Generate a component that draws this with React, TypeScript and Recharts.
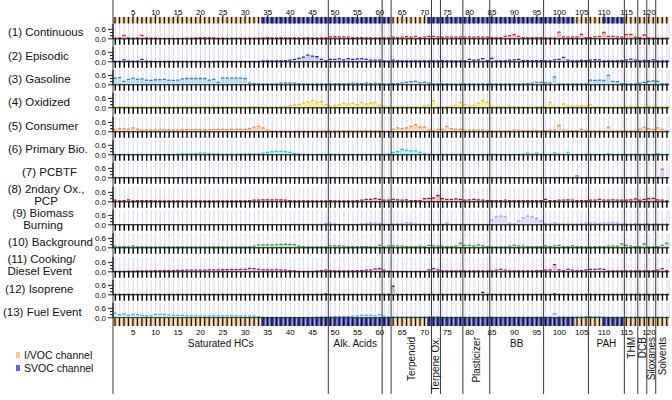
import React from 'react';
import {
  ComposedChart,
  Bar,
  Line,
  XAxis,
  YAxis,
  CartesianGrid,
  ReferenceLine,
  ReferenceArea
} from 'recharts';

// compound index 1..124 (x categories)
const compounds = Array.from({ length: 124 }, (_, k) => k + 1);
const axisTicks = [5, 10, 15, 20, 25, 30, 35, 40, 45, 50, 55, 60, 65, 70, 75, 80, 85, 90, 95, 100, 105, 110, 115, 120];

// SVOC channel compound ranges (rest is I/VOC)
const svocRanges = [[34, 62], [71, 103], [110, 114]];

// compound class boundaries and labels
const groupEdges = [0.5, 48.5, 60.5, 62.5, 71.5, 73.5, 78.5, 84.5, 96.5, 106.5, 114.5, 117.5, 119.5, 121.5];
const groups = [
  { name: 'Saturated HCs', from: 0.5, to: 48.5, vertical: false },
  { name: 'Alk. Acids', from: 48.5, to: 60.5, vertical: false },
  { name: 'Terpenoid', from: 62.5, to: 71.5, vertical: true },
  { name: 'Terpene Ox.', from: 71.5, to: 73.5, vertical: true },
  { name: 'Plasticizer', from: 78.5, to: 84.5, vertical: true },
  { name: 'BB', from: 84.5, to: 96.5, vertical: false },
  { name: 'PAH', from: 106.5, to: 114.5, vertical: false },
  { name: 'THM', from: 114.5, to: 117.5, vertical: true },
  { name: 'DCB', from: 117.5, to: 119.5, vertical: true },
  { name: 'Siloxanes', from: 119.5, to: 121.5, vertical: true },
  { name: 'Solvents', from: 121.5, to: 124.5, vertical: true }
];

const factorNames = [
  '(1) Continuous', '(2) Episodic', '(3) Gasoline', '(4) Oxidized', '(5) Consumer',
  '(6) Primary Bio.', '(7) PCBTF', '(8) 2ndary Ox.,\nPCP', '(9) Biomass\nBurning',
  '(10) Background', '(11) Cooking/\nDiesel Event', '(12) Isoprene', '(13) Fuel Event'
];
const darkColors = ['#d42a2a', '#2424c8', '#2f7fb5', '#e0c81c', '#f08c3c', '#1ec8d2', '#b04cb4', '#a3182c', '#9a9af0', '#2e9e3a', '#8c1e6e', '#222222', '#3fb3c9'];
const lightColors = ['#f4b8bc', '#c8c8f4', '#b8dcf0', '#f6eaa0', '#f9d2b4', '#aeeef2', '#e6c8ec', '#ecb4bc', '#dcdcfa', '#b8e4b8', '#e6b8dc', '#c4c4c4', '#c4ecf4'];

const continuous = [
  .04, .05, .22, .05, .04, .05, .22, .05, .04, .04,
  .03, .03, .03, .03, .03, .03, .04, .04, .05, .08,
  .08, .08, .05, .04, .04, .04, .04, .04, .04, .04,
  .04, .04, .04, .05, .08, .05, .05, .08, .05, .05,
  .05, .06, .06, .07, .06, .06, .05, .05, .12, .13,
  .12, .12, .1, .08, .08, .07, .06, .06, .05, .05,
  .05, .05, .1, .08, .1, .14, .1, .15, .08, .1,
  .15, .15, .12, .1, .12, .1, .1, .12, .1, .12,
  .1, .12, .1, .1, .08, .08, .08, .15, .2, .26,
  .15, .08, .08, .08, .08, .08, .06, .06, .06, .42,
  .12, .1, .1, .12, .28, .08, .08, .12, .15, .4,
  .15, .15, .12, .1, .28, .28, .1, .08, .25, .05,
  .04, .04, .04, .04
];
const episodic = [
  .03, .03, .12, .04, .04, .04, .15, .04, .03, .03,
  .03, .03, .03, .03, .03, .03, .03, .03, .03, .03,
  .03, .03, .03, .03, .03, .03, .03, .03, .03, .03,
  .03, .03, .03, .05, .05, .05, .06, .06, .08, .1,
  .15, .22, .3, .42, .36, .32, .15, .05, .15, .15,
  .18, .12, .2, .15, .18, .2, .15, .1, .1, .1,
  .05, .04, .1, .05, .05, .05, .05, .05, .05, .05,
  .05, .05, .05, .08, .05, .05, .05, .05, .05, .15,
  .1, .12, .2, .08, .22, .05, .05, .05, .1, .12,
  .15, .08, .08, .08, .08, .08, .06, .05, .12, .15,
  .28, .1, .06, .06, .09, .08, .1, .13, .12, .05,
  .05, .05, .05, .08, .12, .17, .1, .06, .09, .08,
  .12, .05, .05, .05
];
const gasoline = [
  .42, .45, .22, .35, .42, .35, .38, .3, .28, .32,
  .33, .35, .3, .28, .3, .38, .4, .4, .4, .4,
  .4, .3, .35, .15, .42, .42, .42, .42, .42, .4,
  .1, .08, .06, .05, .05, .05, .06, .1, .12, .12,
  .1, .08, .05, .05, .05, .05, .05, .05, .06, .08,
  .08, .06, .08, .1, .08, .08, .1, .08, .1, .08,
  .05, .06, .08, .08, .1, .15, .2, .22, .12, .15,
  .1, .06, .05, .05, .05, .05, .05, .05, .05, .05,
  .05, .05, .05, .05, .05, .05, .05, .05, .05, .06,
  .06, .06, .08, .1, .15, .15, .12, .1, .5, .06,
  .06, .06, .06, .06, .06, .06, .3, .28, .3, .28,
  .6, .22, .2, .08, .06, .05, .05, .1, .15, .22,
  .25, .22, .08, .05
];
const oxidized = [
  .05, .05, .05, .05, .05, .05, .05, .05, .05, .05,
  .05, .05, .06, .06, .05, .05, .05, .06, .06, .06,
  .06, .06, .05, .05, .05, .05, .05, .05, .05, .06,
  .06, .08, .08, .05, .05, .05, .05, .06, .08, .12,
  .18, .22, .3, .38, .46, .35, .4, .2, .1, .15,
  .2, .3, .25, .3, .2, .35, .25, .3, .35, .15,
  .1, .06, .05, .05, .05, .05, .05, .05, .06, .1,
  .15, .45, .06, .05, .05, .1, .15, .35, .2, .1,
  .15, .3, .45, .35, .1, .06, .05, .06, .1, .08,
  .06, .06, .06, .06, .06, .08, .06, .35, .05, .05,
  .25, .1, .1, .12, .12, .12, .2, .06, .06, .06,
  .06, .06, .06, .06, .08, .1, .08, .06, .06, .1,
  .08, .06, .06, .06
];
const consumer = [
  .15, .2, .18, .15, .25, .15, .1, .12, .12, .12,
  .12, .13, .13, .12, .12, .13, .13, .14, .14, .13,
  .13, .14, .14, .15, .15, .14, .15, .15, .16, .16,
  .2, .3, .35, .25, .1, .05, .04, .04, .04, .04,
  .04, .04, .04, .04, .04, .04, .04, .05, .05, .05,
  .05, .05, .05, .05, .06, .06, .05, .05, .05, .05,
  .04, .04, .15, .25, .2, .25, .35, .45, .3, .3,
  .1, .08, .15, .15, .35, .2, .15, .15, .1, .1,
  .1, .12, .12, .06, .06, .06, .06, .06, .06, .1,
  .1, .08, .08, .08, .08, .08, .08, .1, .1, .4,
  .1, .08, .08, .08, .15, .06, .06, .06, .06, .06,
  .3, .06, .06, .06, .06, .06, .06, .15, .3, .2,
  .15, .25, .15, .05
];
const primaryBio = [
  .02, .02, .02, .02, .02, .02, .02, .02, .02, .02,
  .02, .03, .03, .03, .04, .05, .05, .06, .08, .1,
  .1, .08, .05, .05, .04, .04, .04, .04, .05, .05,
  .05, .05, .06, .1, .15, .2, .22, .22, .2, .15,
  .08, .05, .03, .03, .03, .03, .03, .03, .04, .03,
  .03, .03, .03, .03, .03, .03, .03, .03, .03, .03,
  .03, .04, .15, .2, .35, .3, .25, .25, .15, .08,
  .03, .03, .03, .03, .03, .03, .03, .03, .03, .03,
  .03, .03, .03, .03, .03, .03, .03, .03, .03, .03,
  .03, .03, .1, .03, .1, .03, .03, .03, .12, .05,
  .03, .15, .03, .03, .03, .03, .03, .03, .03, .03,
  .08, .03, .03, .03, .03, .03, .03, .03, .03, .03,
  .03, .08, .03, .03
];
const pcbtf = [
  .01, .01, .01, .01, .01, .01, .01, .01, .01, .01,
  .01, .01, .01, .01, .01, .01, .01, .01, .01, .01,
  .01, .01, .01, .01, .01, .01, .01, .01, .01, .01,
  .01, .01, .01, .01, .01, .01, .01, .01, .01, .01,
  .01, .01, .01, .01, .01, .01, .01, .01, .01, .01,
  .01, .01, .01, .01, .01, .01, .01, .01, .01, .01,
  .01, .01, .01, .01, .01, .01, .01, .01, .01, .01,
  .01, .01, .01, .01, .01, .01, .01, .01, .01, .01,
  .01, .01, .01, .01, .01, .01, .01, .01, .01, .01,
  .01, .01, .01, .01, .01, .01, .01, .01, .01, .01,
  .01, .01, .01, .12, .01, .01, .01, .01, .01, .01,
  .01, .01, .01, .01, .01, .01, .01, .01, .01, .01,
  .01, .01, .55, .01
];
const secondaryOx = [
  .1, .05, .08, .12, .05, .08, .08, .08, .08, .06,
  .06, .06, .06, .06, .06, .06, .06, .06, .06, .06,
  .05, .05, .05, .05, .05, .05, .05, .05, .05, .05,
  .08, .1, .1, .12, .12, .12, .12, .12, .1, .08,
  .06, .06, .06, .05, .05, .05, .05, .05, .08, .06,
  .06, .06, .06, .06, .08, .1, .15, .15, .2, .15,
  .1, .1, .15, .12, .1, .12, .08, .08, .08, .2,
  .22, .25, .4, .2, .15, .15, .18, .15, .1, .12,
  .15, .12, .1, .08, .08, .08, .08, .1, .08, .08,
  .08, .08, .08, .08, .08, .08, .15, .08, .08, .1,
  .1, .12, .1, .08, .08, .08, .1, .1, .15, .1,
  .1, .12, .1, .1, .1, .12, .18, .1, .15, .2,
  .22, .12, .1, .05
];
const biomass = [
  .01, .01, .01, .01, .01, .01, .01, .01, .01, .01,
  .01, .01, .01, .01, .01, .01, .01, .01, .01, .01,
  .01, .01, .01, .01, .01, .01, .01, .01, .01, .01,
  .01, .01, .01, .01, .01, .01, .01, .01, .01, .01,
  .02, .02, .03, .03, .03, .02, .02, .08, .1, .06,
  .03, .03, .03, .03, .03, .05, .08, .1, .1, .08,
  .04, .03, .05, .05, .06, .12, .1, .05, .04, .04,
  .03, .03, .03, .03, .1, .03, .03, .03, .03, .03,
  .03, .03, .03, .03, .3, .5, .55, .5, .1, .05,
  .25, .45, .55, .5, .4, .25, .08, .05, .1, .05,
  .05, .06, .05, .05, .05, .1, .1, .1, .08, .12,
  .1, .12, .1, .06, .05, .05, .08, .05, .05, .05,
  .05, .05, .05, .05
];
const background = [
  .1, .05, .08, .05, .12, .05, .05, .05, .05, .05,
  .05, .05, .05, .05, .05, .05, .05, .05, .05, .05,
  .06, .06, .06, .06, .06, .06, .06, .06, .06, .06,
  .05, .1, .18, .18, .18, .18, .2, .22, .22, .22,
  .2, .1, .08, .06, .05, .05, .05, .05, .12, .12,
  .12, .1, .08, .08, .08, .08, .08, .05, .06, .15,
  .05, .12, .12, .1, .1, .08, .08, .08, .1, .08,
  .15, .12, .1, .1, .08, .08, .1, .3, .15, .15,
  .12, .18, .12, .08, .05, .05, .05, .06, .1, .15,
  .12, .1, .08, .08, .08, .08, .12, .08, .1, .15,
  .08, .08, .12, .08, .08, .06, .06, .08, .08, .08,
  .1, .1, .1, .25, .15, .1, .08, .08, .25, .05,
  .05, .08, .15, .3
];
const cooking = [
  .03, .03, .03, .04, .04, .05, .05, .06, .06, .07,
  .07, .08, .08, .08, .09, .09, .1, .1, .1, .11,
  .11, .12, .12, .12, .13, .13, .14, .14, .15, .16,
  .22, .2, .15, .12, .12, .12, .12, .12, .1, .08,
  .06, .03, .03, .03, .03, .05, .08, .1, .08, .05,
  .05, .05, .05, .05, .08, .08, .1, .12, .18, .2,
  .1, .04, .03, .03, .03, .03, .03, .03, .03, .03,
  .12, .2, .12, .05, .05, .05, .05, .05, .05, .06,
  .06, .06, .06, .06, .06, .1, .15, .1, .06, .06,
  .06, .06, .06, .06, .08, .08, .1, .12, .45, .12,
  .08, .15, .1, .08, .08, .12, .15, .15, .18, .15,
  .06, .06, .06, .06, .06, .06, .06, .06, .06, .06,
  .08, .1, .2, .08
];
const isoprene = [
  .02, .02, .02, .02, .02, .02, .02, .02, .02, .02,
  .02, .02, .02, .02, .02, .02, .02, .02, .02, .02,
  .02, .02, .02, .03, .02, .02, .02, .02, .02, .02,
  .02, .02, .02, .02, .02, .02, .02, .02, .02, .02,
  .02, .02, .02, .02, .02, .02, .02, .05, .02, .02,
  .02, .02, .02, .02, .02, .02, .02, .02, .02, .02,
  .02, .02, .55, .03, .03, .02, .02, .02, .02, .02,
  .02, .02, .02, .02, .02, .02, .02, .02, .02, .02,
  .02, .02, .15, .03, .02, .02, .02, .02, .02, .02,
  .02, .02, .02, .02, .02, .02, .02, .02, .06, .02,
  .02, .02, .02, .02, .02, .02, .02, .02, .02, .02,
  .02, .02, .02, .02, .02, .02, .02, .02, .02, .02,
  .02, .02, .02, .02
];
const fuelEvent = [
  .3, .2, .25, .15, .22, .2, .15, .12, .12, .22,
  .22, .22, .18, .15, .15, .15, .12, .12, .12, .1,
  .1, .1, .12, .12, .12, .12, .12, .12, .1, .1,
  .1, .1, .08, .04, .03, .03, .03, .03, .03, .03,
  .03, .03, .03, .03, .03, .05, .05, .05, .05, .08,
  .08, .08, .08, .1, .12, .15, .15, .15, .12, .2,
  .1, .05, .05, .05, .05, .05, .05, .05, .05, .05,
  .08, .08, .08, .04, .04, .04, .04, .04, .04, .04,
  .04, .04, .04, .04, .04, .04, .04, .04, .04, .04,
  .04, .04, .04, .04, .04, .04, .04, .04, .25, .05,
  .05, .05, .05, .05, .05, .08, .08, .08, .08, .08,
  .04, .04, .04, .04, .04, .04, .04, .04, .04, .04,
  .04, .04, .04, .04
];

const factorValues = [continuous, episodic, gasoline, oxidized, consumer, primaryBio, pcbtf, secondaryOx, biomass, background, cooking, isoprene, fuelEvent];

// label placement: left edge, or centre for the two-line centred labels
const labelPlace = [
  { left: 8 }, { left: 8 }, { left: 8 }, { left: 8 }, { left: 8 }, { left: 8 }, { left: 22 },
  { center: 46 }, { center: 43 }, { left: 8 }, { left: 7.5 }, { left: 5 }, { left: 3 }
];

const FONT = '"Liberation Sans", Arial, sans-serif';
const W = 672;
const PLOT_LEFT = 113;
const RIGHT = 2.8;
const Y_AXIS_W = 30;
const ZERO_Y = 38.3;
const STEP = 23.3;
const PLOT_H = 14.8;
const TICK_H = 8.5;
const Y_MAX = 0.94;

const TAN = '#f1c994';
const BLUE = '#5454c4';
const GRID = '#d6d6f2';

const isSvoc = (c: number) => svocRanges.some(([a, b]) => c >= a && c <= b);

const emptyTick = () => <g />;

const YTick = (props: any) => {
  const { x, y, payload } = props;
  const axisX = x + 7;
  const v = Number(payload.value);
  const major = Math.abs(v) < 1e-6 || Math.abs(v - 0.6) < 1e-6;
  return (
    <g>
      <line x1={axisX - (major ? 5 : 3)} x2={axisX} y1={y} y2={y} stroke="#000" strokeWidth={0.9} />
      {major && (
        <text x={x} y={y} dy="0.35em" textAnchor="end" fontSize={8} fontFamily={FONT} fill="#000">
          {v.toFixed(1)}
        </text>
      )}
    </g>
  );
};

const Panel = ({ i }: { i: number }) => {
  const values = factorValues[i];
  const data = compounds.map((c, k) => ({ idx: c, v: values[k] }));
  const dark = darkColors[i];
  const light = lightColors[i];
  const top = ZERO_Y + i * STEP - PLOT_H;
  const place = labelPlace[i];
  const labelStyle: React.CSSProperties = place.center !== undefined
    ? { left: place.center - 50, width: 100, textAlign: 'center' }
    : { left: place.left };
  return (
    <>
      <div
        style={{
          position: 'absolute',
          top: ZERO_Y + i * STEP - 6,
          transform: 'translateY(-50%)',
          fontFamily: FONT,
          fontSize: 11.5,
          lineHeight: '12px',
          whiteSpace: 'pre-line',
          color: '#111',
          ...labelStyle
        }}
      >
        {factorNames[i]}
      </div>
      <div style={{ position: 'absolute', left: 0, top }}>
        <ComposedChart
          width={W}
          height={PLOT_H + TICK_H}
          data={data}
          margin={{ top: 0, right: RIGHT, bottom: 0, left: PLOT_LEFT - Y_AXIS_W }}
          barCategoryGap={0}
          barGap={0}
        >
          <CartesianGrid horizontal={false} stroke={GRID} strokeWidth={1} />
          <XAxis
            dataKey="idx"
            interval={0}
            height={TICK_H}
            tickSize={6}
            tick={emptyTick}
            axisLine={{ stroke: '#000', strokeWidth: 1 }}
            tickLine={{ stroke: '#000', strokeWidth: 1.4 }}
          />
          <YAxis
            domain={[0, Y_MAX]}
            ticks={[0, 0.2, 0.4, 0.6]}
            interval={0}
            width={Y_AXIS_W}
            tickSize={5}
            tickMargin={2}
            tickLine={false}
            axisLine={{ stroke: '#000', strokeWidth: 1 }}
            tick={YTick}
            allowDataOverflow
          />
          <Bar
            dataKey="v"
            isAnimationActive={false}
            shape={(p: any) => (
              <g>
                <rect x={p.x} y={p.y} width={p.width} height={Math.max(p.height, 0)} fill={light} />
                <line x1={p.x + 0.4} x2={p.x + p.width - 0.4} y1={p.y} y2={p.y} stroke={dark} strokeWidth={1.3} />
              </g>
            )}
          />
        </ComposedChart>
      </div>
    </>
  );
};

const StripCell = (p: any) => (
  <g>
    <rect x={p.x} y={p.y} width={p.width} height={p.height} fill={p.payload.svoc ? BLUE : TAN} />
    <line x1={p.x + p.width / 2} x2={p.x + p.width / 2} y1={p.y} y2={p.y + p.height} stroke="#111" strokeWidth={1.3} />
  </g>
);

const ChannelStrip = ({ top, side }: { top: number; side: 'top' | 'bottom' }) => {
  const data = compounds.map((c) => ({ idx: c, one: 1, svoc: isSvoc(c) }));
  const axisH = side === 'top' ? 17 : 14;
  const stripH = side === 'top' ? 6.5 : 8;
  return (
    <div style={{ position: 'absolute', left: 0, top }}>
      <ComposedChart
        width={W}
        height={axisH + stripH}
        data={data}
        margin={{ top: 0, right: RIGHT, bottom: 0, left: PLOT_LEFT }}
        barCategoryGap={0}
        barGap={0}
      >
        <XAxis
          dataKey="idx"
          orientation={side}
          ticks={axisTicks}
          interval={0}
          height={axisH}
          tickSize={side === 'top' ? 2 : 0}
          tickMargin={side === 'top' ? 0 : 3}
          axisLine={false}
          tickLine={side === 'top' ? { stroke: '#000' } : false}
          tick={{ fontSize: 8, fill: '#000', fontFamily: FONT }}
        />
        <YAxis hide domain={[0, 1]} />
        <Bar dataKey="one" isAnimationActive={false} shape={StripCell} />
      </ComposedChart>
    </div>
  );
};

const groupShape = (g: { name: string; vertical: boolean }) => (p: any) => {
  const cx = p.x + p.width / 2;
  if (g.vertical) {
    return (
      <text x={cx} y={337} transform={`rotate(-90 ${cx} 337)`} textAnchor="end" dominantBaseline="central" fontSize={10} fontFamily={FONT} fill="#111">
        {g.name}
      </text>
    );
  }
  return (
    <text x={cx} y={343} textAnchor="middle" dominantBaseline="central" fontSize={10} fontFamily={FONT} fill="#111">
      {g.name}
    </text>
  );
};

const Overlay = () => {
  const data = groupEdges.map((x) => ({ x, y: 0 }));
  return (
    <div style={{ position: 'absolute', left: 0, top: 0, pointerEvents: 'none' }}>
      <ComposedChart width={W} height={394} data={data} margin={{ top: 0, right: RIGHT, bottom: 0, left: PLOT_LEFT }}>
        <XAxis type="number" dataKey="x" domain={[0.5, 124.5]} hide allowDataOverflow />
        <YAxis type="number" hide domain={[0, 1]} allowDataOverflow />
        <Line dataKey="y" stroke="none" dot={false} activeDot={false} isAnimationActive={false} />
        {groups.map((g) => (
          <ReferenceArea key={g.name} x1={g.from} x2={g.to} y1={0} y2={1} ifOverflow="visible" shape={groupShape(g)} />
        ))}
        {groupEdges.map((e) => (
          <ReferenceLine key={e} x={e} stroke="#222" strokeWidth={0.9} ifOverflow="visible" />
        ))}
      </ComposedChart>
    </div>
  );
};

const Legend = () => (
  <div style={{ position: 'absolute', left: 0, top: 0, fontFamily: FONT, fontSize: 10.5, color: '#111' }}>
    {[{ name: 'I/VOC channel', color: '#f2c8a0', y: 355 }, { name: 'SVOC channel', color: '#6868cc', y: 368 }].map((it) => (
      <div key={it.name} style={{ position: 'absolute', left: 16, top: it.y, transform: 'translateY(-50%)', whiteSpace: 'nowrap', display: 'flex', alignItems: 'center' }}>
        <span style={{ display: 'inline-block', width: 4, height: 6, background: it.color, marginRight: 4 }} />
        {it.name}
      </div>
    ))}
  </div>
);

export default function App() {
  return (
    <div style={{ position: 'absolute', left: 0, top: 0, width: W, height: 400, background: '#fff', overflow: 'hidden' }}>
      {factorValues.map((_, i) => (
        <Panel key={i} i={i} />
      ))}
      <ChannelStrip top={0} side="top" />
      <ChannelStrip top={ZERO_Y + 12 * STEP} side="bottom" />
      <Legend />
      <Overlay />
    </div>
  );
}
